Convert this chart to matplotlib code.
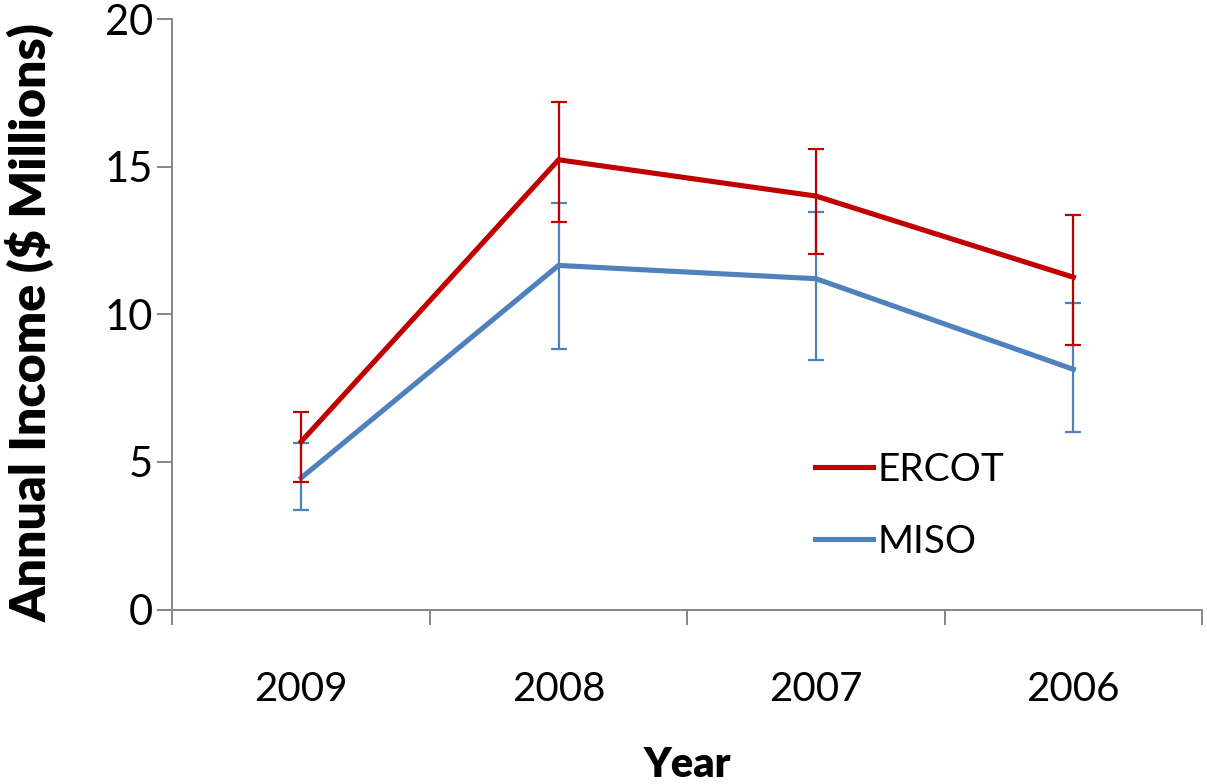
import matplotlib
matplotlib.use("Agg")
import matplotlib.pyplot as plt
import numpy as np
from matplotlib.lines import Line2D

years = ["2009", "2008", "2007", "2006"]
ercot = [5.69, 15.24, 14.01, 11.26]
ercot_err_up = [0.99, 1.95, 1.61, 2.10]
ercot_err_down = [1.38, 2.12, 1.95, 2.28]
miso = [4.46, 11.66, 11.21, 8.14]
miso_err_up = [1.19, 2.11, 2.26, 2.23]
miso_err_down = [1.08, 2.82, 2.75, 2.13]

plt.rcParams['font.family'] = ['Lato', 'DejaVu Sans']

fig = plt.figure(figsize=(12.07, 7.84), dpi=100)
ax = fig.add_axes([172.5/1207, (784-609.5)/784, (1202-172.5)/1207, (609.5-19.3)/784])

x = np.arange(len(years)) + 0.5
red = '#C00000'
blue = '#4F81BD'

ax.errorbar(x, ercot, yerr=[ercot_err_down, ercot_err_up], color=red, lw=3.7,
            ecolor=red, elinewidth=1.6, capsize=6, capthick=1.6, zorder=3)
ax.errorbar(x, miso, yerr=[miso_err_down, miso_err_up], color=blue, lw=3.7,
            ecolor=blue, elinewidth=1.6, capsize=6, capthick=1.6, zorder=2)

ax.set_xlim(0, len(years))
ax.set_ylim(0, 20)
ax.set_yticks([0, 5, 10, 15, 20])
ax.set_xticks(np.arange(len(years) + 1))
ax.set_xticklabels([])
ax.set_xticks(x, minor=True)
ax.set_xticklabels(years, minor=True)
ax.tick_params(axis='x', which='minor', length=0, pad=44, labelsize=29)
ax.tick_params(axis='x', which='major', length=11, width=1.4, color='#868686', direction='out')
ax.tick_params(axis='y', length=11, width=1.4, color='#868686', direction='out', labelsize=30, pad=3)

for s in ['top', 'right']:
    ax.spines[s].set_visible(False)
for s in ['left', 'bottom']:
    ax.spines[s].set_color('#868686')
    ax.spines[s].set_linewidth(1.4)

ax.set_ylabel('Annual Income ($ Millions)', fontsize=36, fontweight='heavy')
ax.yaxis.set_label_coords(-0.138, 0.486)
ax.set_xlabel('Year', fontsize=30, fontweight='heavy')
ax.xaxis.set_label_coords(0.5, (609.5-765)/590.2)
ax.xaxis.label.set_va('center')
ax.yaxis.label.set_va('center')

hs = [Line2D([], [], color=red, lw=3.7), Line2D([], [], color=blue, lw=3.7)]
ax.legend(hs, ['ERCOT', 'MISO'], loc='center left', bbox_to_anchor=(0.59, 0.176),
          frameon=False, fontsize=28, handlelength=1.5, handletextpad=0.1, labelspacing=0.92)

fig.savefig('out.png', dpi=100)
